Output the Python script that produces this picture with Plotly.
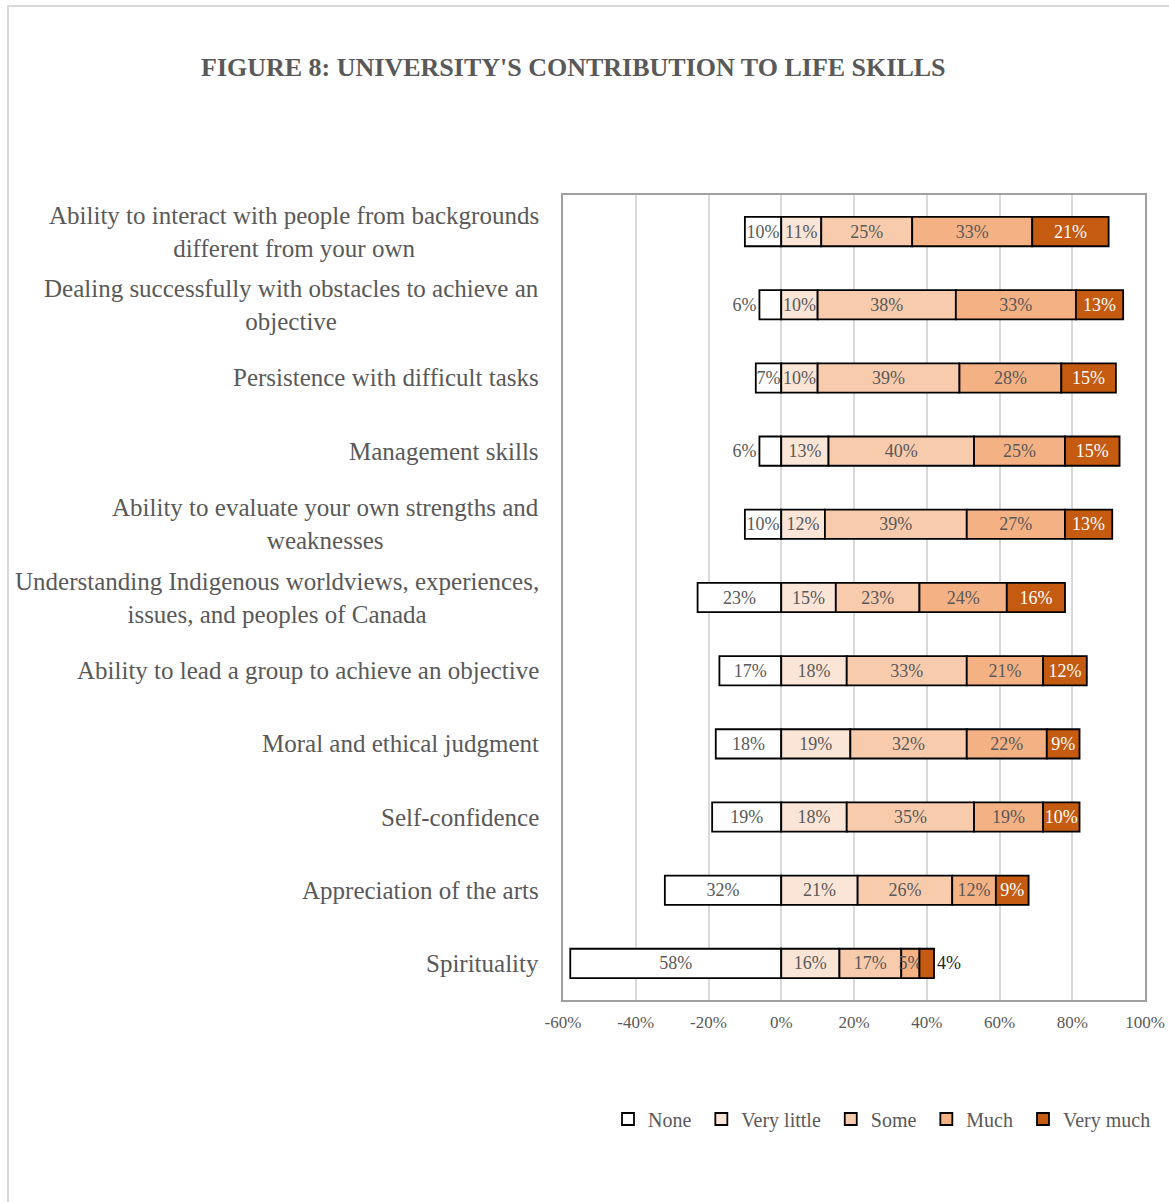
import plotly.graph_objects as go

# Survey items, top to bottom
skills = [
    "Ability to interact with people from backgrounds<br>different from your own",
    "Dealing successfully with obstacles to achieve an<br>objective",
    "Persistence with difficult tasks",
    "Management skills",
    "Ability to evaluate your own strengths and<br>weaknesses",
    "Understanding Indigenous worldviews, experiences,<br>issues, and peoples of Canada",
    "Ability to lead a group to achieve an objective",
    "Moral and ethical judgment",
    "Self-confidence",
    "Appreciation of the arts",
    "Spirituality",
]

# Response shares (%) per item
none_pct = [10, 6, 7, 6, 10, 23, 17, 18, 19, 32, 58]
very_little_pct = [11, 10, 10, 13, 12, 15, 18, 19, 18, 21, 16]
some_pct = [25, 38, 39, 40, 39, 23, 33, 32, 35, 26, 17]
much_pct = [33, 33, 28, 25, 27, 24, 21, 22, 19, 12, 5]
very_much_pct = [21, 13, 15, 15, 13, 16, 12, 9, 10, 9, 4]

x_ticks = [-60, -40, -20, 0, 20, 40, 60, 80, 100]

FONT = "Liberation Serif, Times New Roman, serif"
GRAY = "#595959"

# geometry of the plot area in pixels
W, H = 1169, 1202
L, R, T, B = 563, 1145, 195, 1000
PW, PH = R - L, B - T


def px_x(p):
    return (p - L) / PW


def px_y(p):
    return (B - p) / PH


fig = go.Figure()

series = [
    ("None", [-v for v in none_pct], none_pct, "#FFFFFF", GRAY),
    ("Very little", very_little_pct, very_little_pct, "#FBE5D6", GRAY),
    ("Some", some_pct, some_pct, "#F8CBAD", GRAY),
    ("Much", much_pct, much_pct, "#F4B183", GRAY),
    ("Very much", very_much_pct, very_much_pct, "#C55A11", "#FFFFFF"),
]

for name, xs, labels, color, tcolor in series:
    positions = ["inside"] * len(xs)
    if name == "None":
        positions[1] = "outside"
        positions[3] = "outside"
    if name == "Very much":
        positions[-1] = "outside"
    fig.add_trace(go.Bar(
        name=name + "\u00a0",
        y=skills,
        x=xs,
        orientation="h",
        text=[f"{v}%" for v in labels],
        textposition=positions,
        insidetextanchor="middle",
        constraintext="none",
        textangle=0,
        textfont=dict(family=FONT, size=18, color=tcolor),
        outsidetextfont=dict(family=FONT, size=18, color=GRAY if name == "None" else "#262626"),
        marker=dict(color=color, line=dict(color="#000000", width=1.8)),
        cliponaxis=False,
    ))

# category labels drawn as centred multi-line text blocks
annotations = []
for s in skills:
    annotations.append(dict(
        x=px_x(541), xref="paper", y=s, yref="y",
        text=s, showarrow=False, xanchor="right", yanchor="middle", align="center",
        font=dict(family=FONT, size=25, color=GRAY),
    ))

annotations.append(dict(
    x=px_x(573), xref="paper", y=px_y(68), yref="paper",
    text="<b>FIGURE 8: UNIVERSITY'S CONTRIBUTION TO LIFE SKILLS</b>",
    showarrow=False, xanchor="center", yanchor="middle",
    font=dict(family=FONT, size=26, color=GRAY),
))

fig.update_layout(
    width=W, height=H,
    barmode="relative",
    bargap=0.6,
    plot_bgcolor="white",
    paper_bgcolor="white",
    margin=dict(l=L, r=W - R, t=T, b=H - B, pad=0, autoexpand=False),
    font=dict(family=FONT, color=GRAY),
    annotations=annotations,
    showlegend=True,
    legend=dict(
        orientation="h", x=px_x(608), y=px_y(1119), xanchor="left", yanchor="middle",
        font=dict(family=FONT, size=20, color=GRAY),
        traceorder="normal", itemwidth=30,
    ),
    shapes=[dict(
        type="rect", xref="paper", yref="paper",
        x0=px_x(8), x1=px_x(1180), y0=px_y(6), y1=px_y(1215),
        line=dict(color="#D9D9D9", width=2), fillcolor="rgba(0,0,0,0)", layer="below",
    )],
)

fig.update_xaxes(
    range=[-60, 100],
    tickvals=x_ticks,
    ticktext=[f"{v}%" for v in x_ticks],
    tickfont=dict(family=FONT, size=17, color=GRAY),
    showgrid=True, gridcolor="#D9D9D9", gridwidth=1.5,
    zeroline=False,
    showline=True, mirror=True, linecolor="#A0A0A0", linewidth=2,
    ticks="", ticklabelstandoff=6, automargin=False,
)
fig.update_yaxes(
    categoryorder="array",
    categoryarray=skills[::-1],
    showticklabels=False,
    showgrid=False,
    showline=True, mirror=True, linecolor="#A0A0A0", linewidth=2,
    ticks="", automargin=False,
)

fig.write_html("out.html")
